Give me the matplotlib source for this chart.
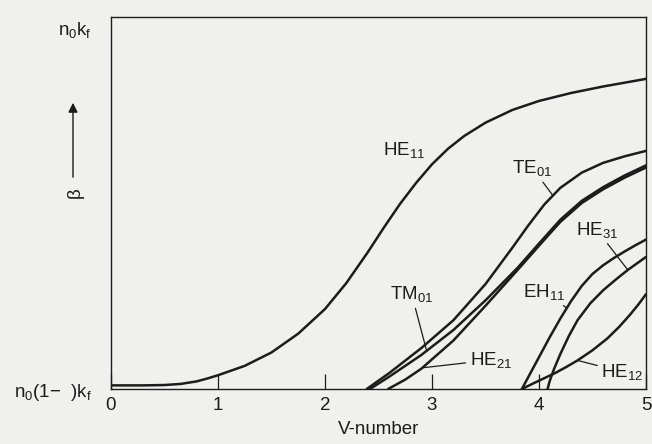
"""
Mode dispersion diagram: beta vs V-number for the lowest fibre modes
(reconstruction of a scanned textbook figure)
"""

import numpy as np
import matplotlib
matplotlib.use('Agg')
import matplotlib.pyplot as plt

plt.rcParams['font.family'] = ['Liberation Sans', 'DejaVu Sans']
plt.rcParams['mathtext.fontset'] = 'custom'
plt.rcParams['mathtext.rm'] = 'Liberation Sans'
plt.rcParams['mathtext.it'] = 'Liberation Sans:italic'

# normalised propagation constant b
he11_v = [0.00, 0.30, 0.50, 0.65, 0.80, 0.90, 1.00, 1.25, 1.50, 1.75, 2.00, 2.20, 2.40, 2.55,
          2.70, 2.85, 3.00, 3.15, 3.30, 3.50, 3.75, 4.00, 4.30, 4.60, 5.00]
he11_b = [0.010, 0.010, 0.011, 0.014, 0.021, 0.029, 0.038, 0.064, 0.101, 0.153, 0.221, 0.293,
          0.378, 0.446, 0.511, 0.569, 0.621, 0.664, 0.699, 0.736, 0.771, 0.796, 0.818, 0.836, 0.857]

te01_v = [2.39, 2.60, 2.90, 3.20, 3.50, 3.75, 3.90, 4.05, 4.20, 4.40, 4.60, 4.80, 5.00]
te01_b = [0.000, 0.044, 0.113, 0.190, 0.290, 0.390, 0.452, 0.510, 0.556, 0.598, 0.625, 0.643, 0.658]

tm01_v = [2.42, 2.60, 2.90, 3.20, 3.50, 3.80, 4.00, 4.20, 4.40, 4.60, 4.80, 5.00]
tm01_b = [0.000, 0.034, 0.094, 0.163, 0.245, 0.335, 0.402, 0.468, 0.520, 0.558, 0.590, 0.618]

he21_v = [2.59, 2.75, 2.90, 3.20, 3.50, 3.80, 4.00, 4.20, 4.40, 4.60, 4.80, 5.00]
he21_b = [0.000, 0.026, 0.056, 0.134, 0.230, 0.329, 0.396, 0.462, 0.514, 0.552, 0.584, 0.612]

eh11_v = [3.84, 3.92, 4.00, 4.10, 4.20, 4.30, 4.40, 4.50, 4.60, 4.70, 4.80, 4.90, 5.00]
eh11_b = [0.000, 0.044, 0.088, 0.143, 0.195, 0.243, 0.285, 0.318, 0.342, 0.362, 0.380, 0.397, 0.413]

he31_v = [4.08, 4.10, 4.14, 4.20, 4.28, 4.36, 4.48, 4.60, 4.72, 4.83, 4.92, 5.00]
he31_b = [0.000, 0.022, 0.055, 0.097, 0.147, 0.190, 0.237, 0.273, 0.303, 0.329, 0.348, 0.365]

he12_v = [3.84, 3.95, 4.05, 4.15, 4.25, 4.36, 4.50, 4.64, 4.75, 4.85, 4.93, 5.00]
he12_b = [0.000, 0.016, 0.030, 0.044, 0.060, 0.079, 0.107, 0.140, 0.172, 0.205, 0.234, 0.262]

curves = [
    (he11_v, he11_b),
    (te01_v, te01_b),
    (tm01_v, tm01_b),
    (he21_v, he21_b),
    (eh11_v, eh11_b),
    (he31_v, he31_b),
    (he12_v, he12_b),
]

# label text, label position (V, b), curve it points to, pointer target V
labels = [
    (r'HE$_{11}$', (2.74, 0.66), None, None),
    (r'TE$_{01}$', (3.94, 0.61), (te01_v, te01_b), 4.13),
    (r'TM$_{01}$', (2.81, 0.262), (tm01_v, tm01_b), 2.95),
    (r'HE$_{21}$', (3.55, 0.080), (he21_v, he21_b), 2.91),
    (r'HE$_{31}$', (4.54, 0.440), (he31_v, he31_b), 4.83),
    (r'EH$_{11}$', (4.05, 0.268), (eh11_v, eh11_b), 4.26),
    (r'HE$_{12}$', (4.78, 0.047), (he12_v, he12_b), 4.36),
]

ink = '#1c1c1c'
paper = '#f0f0ee'
fs = 13.5

fig = plt.figure(figsize=(6.52, 4.44), dpi=100, facecolor=paper)
ax = fig.add_axes([111 / 652, 1 - 389 / 444, 535 / 652, 372 / 444])
ax.set_facecolor(paper)

for v, b in curves:
    ax.plot(v, b, color=ink, linewidth=1.8, solid_capstyle='round',
            solid_joinstyle='round')

for text, pos, curve, target in labels:
    if curve is None:
        ax.text(pos[0], pos[1], text, fontsize=fs, color=ink, ha='center', va='center')
        continue
    tb = np.interp(target, curve[0], curve[1])
    ax.annotate(text, xy=(target, tb), xytext=pos, fontsize=fs, color=ink,
                ha='center', va='center',
                arrowprops=dict(arrowstyle='-', color=ink, lw=0.9,
                                shrinkA=1, shrinkB=0))

ax.set_xlim(0, 5)
ax.set_ylim(0, 1.028)
ax.set_xticks([0, 1, 2, 3, 4, 5])
ax.tick_params(axis='x', direction='in', length=10.5, width=0.9, pad=6,
               labelsize=fs, colors=ink)
ax.set_yticks([0, 1])
ax.set_yticklabels([r'n$_{0}$(1$-$  )k$_{\mathrm{f}}$', r'n$_{0}$k$_{\mathrm{f}}$'])
ax.tick_params(axis='y', length=0, pad=14, labelsize=fs, colors=ink)
ax.set_xlabel('V-number', fontsize=fs, color=ink, labelpad=5)

for s in ax.spines.values():
    s.set_color(ink)
    s.set_linewidth(1.0)

# beta with upward arrow on the left
fig.patches.append(matplotlib.patches.FancyArrowPatch(
    (73 / 652, 1 - 180 / 444), (73 / 652, 1 - 100 / 444),
    transform=fig.transFigure, arrowstyle='-|>', mutation_scale=14,
    color=ink, lw=1.0))
fig.text(75 / 652, 1 - 193 / 444, 'β', rotation=90, fontsize=fs, color=ink,
         ha='center', va='center')

plt.savefig('out.png', dpi=100, facecolor=paper)
